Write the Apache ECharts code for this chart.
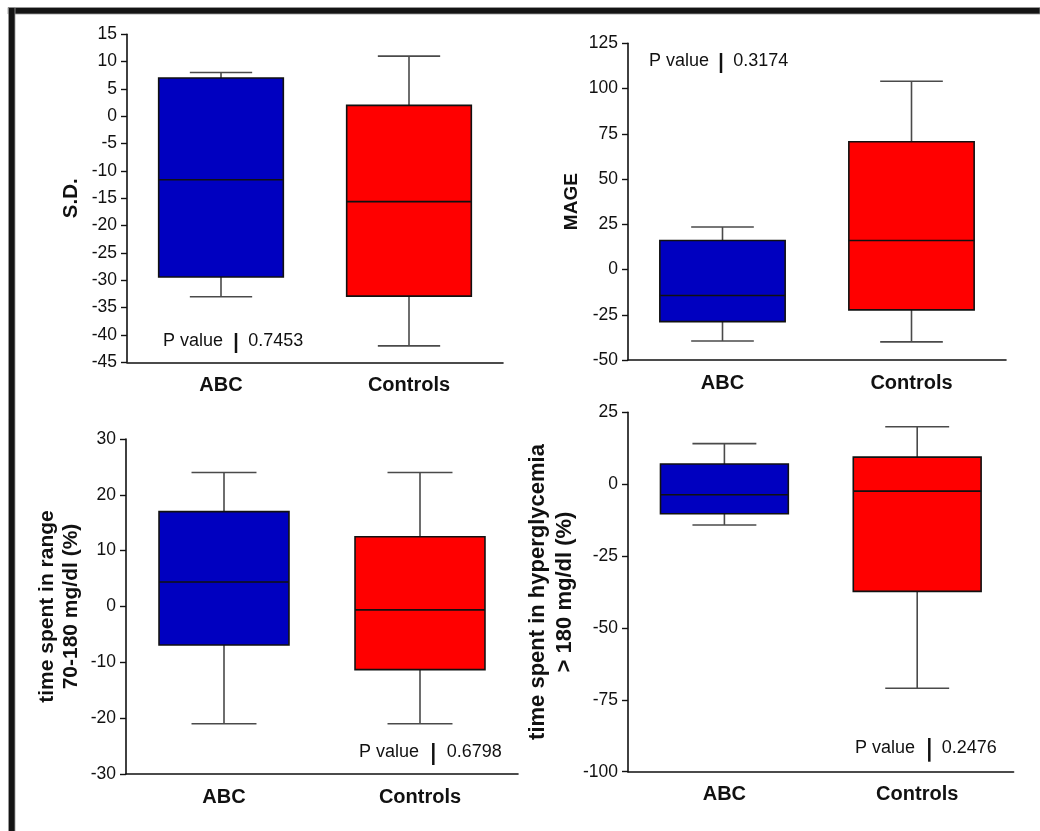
<!DOCTYPE html>
<html>
<head>
<meta charset="utf-8">
<script src="https://cdn.jsdelivr.net/npm/echarts@6/dist/echarts.min.js"></script>
<style>
  html, body { margin: 0; padding: 0; background: #fff; }
  #chart { width: 1040px; height: 831px; }
</style>
</head>
<body>
<div id="chart"></div>
<script>
// ---------- DATA ----------
const categories = ['ABC', 'Controls'];
// each box: [min, q1, median, q3, max]
const sdABC = [-33, -29.4, -11.6, 7, 8];
const sdControls = [-42, -32.9, -15.6, 2, 11];
const mageABC = [-39.5, -28.8, -14.4, 16, 23.5];
const mageControls = [-40, -22.3, 16, 70.6, 104];
const tirABC = [-21, -6.9, 4.4, 17, 24];
const tirControls = [-21, -11.3, -0.6, 12.5, 24];
const tarABC = [-14.2, -10.3, -3.7, 7, 14.1];
const tarControls = [-71, -37.3, -2.4, 9.4, 20];
const pValues = ['0.7453', '0.3174', '0.6798', '0.2476'];
const yTitles = ['S.D.', 'MAGE', 'time spent in range\n70-180 mg/dl (%)', 'time spent in hyperglycemia\n> 180 mg/dl (%)'];
const yMins = [-45, -50, -30, -100];
const yMaxs = [15, 125, 30, 25];
const yIntervals = [5, 25, 10, 25];

// ---------- LAYOUT / STYLE ----------
const panelData = [
  [sdABC, sdControls],
  [mageABC, mageControls],
  [tirABC, tirControls],
  [tarABC, tarControls]
];
const grids = [
  { left: 127, top: 34.3, width: 376, height: 328 },
  { left: 628, top: 43.3, width: 378, height: 316.7 },
  { left: 126, top: 439, width: 392, height: 335 },
  { left: 628, top: 412.3, width: 385.6, height: 359.4 }
];
const nameGaps = [44, 45, 43, 50];
const nameSizes = [20.5, 19, 21, 22];
const nameLineHeights = [23, 22, 24, 26.5];
const boxColors = ['#0000C0', '#FF0000'];
const FONT = '"Liberation Sans", Arial, Helvetica, sans-serif';

function renderItem(params, api) {
  const idx = api.value(0);
  const x = api.coord([idx, 0])[0];
  const yMin = api.coord([idx, api.value(1)])[1];
  const yQ1 = api.coord([idx, api.value(2)])[1];
  const yMed = api.coord([idx, api.value(3)])[1];
  const yQ3 = api.coord([idx, api.value(4)])[1];
  const yMax = api.coord([idx, api.value(5)])[1];
  const band = api.size([1, 0])[0];
  const bw = band * 0.663;
  const cw = bw * 0.5;
  const wStyle = { stroke: '#4a4a4a', lineWidth: 1.6 };
  const bStyle = { stroke: '#111', lineWidth: 1.6 };
  return {
    type: 'group',
    children: [
      { type: 'line', shape: { x1: x, y1: yQ3, x2: x, y2: yMax }, style: wStyle },
      { type: 'line', shape: { x1: x - cw / 2, y1: yMax, x2: x + cw / 2, y2: yMax }, style: wStyle },
      { type: 'line', shape: { x1: x, y1: yQ1, x2: x, y2: yMin }, style: wStyle },
      { type: 'line', shape: { x1: x - cw / 2, y1: yMin, x2: x + cw / 2, y2: yMin }, style: wStyle },
      { type: 'rect', shape: { x: x - bw / 2, y: yQ3, width: bw, height: yQ1 - yQ3 },
        style: { fill: boxColors[idx], stroke: '#111', lineWidth: 1.6 } },
      { type: 'line', shape: { x1: x - bw / 2, y1: yMed, x2: x + bw / 2, y2: yMed }, style: bStyle }
    ]
  };
}

const xAxes = [], yAxes = [], series = [];
for (let i = 0; i < 4; i++) {
  xAxes.push({
    type: 'category', gridIndex: i, data: categories,
    axisLine: { onZero: false, lineStyle: { color: '#111', width: 1.6 } },
    axisTick: { show: false },
    axisLabel: { color: '#111', fontFamily: FONT, fontSize: 20, fontWeight: 'bold', margin: 13 },
    splitLine: { show: false }
  });
  yAxes.push({
    type: 'value', gridIndex: i, min: yMins[i], max: yMaxs[i], interval: yIntervals[i],
    name: yTitles[i], nameLocation: 'middle', nameGap: nameGaps[i], nameRotate: 90,
    nameTextStyle: { color: '#111', fontFamily: FONT, fontSize: nameSizes[i], fontWeight: 'bold',
      lineHeight: nameLineHeights[i] },
    axisLine: { show: true, onZero: false, lineStyle: { color: '#111', width: 1.6 } },
    axisTick: { show: true, length: 6, lineStyle: { color: '#111', width: 1.4 } },
    axisLabel: { color: '#111', fontFamily: FONT, fontSize: 17.5, margin: 10 },
    splitLine: { show: false }
  });
  series.push({
    type: 'custom', xAxisIndex: i, yAxisIndex: i,
    renderItem: renderItem,
    encode: { x: 0, y: [1, 2, 3, 4, 5] },
    data: panelData[i].map((d, k) => [k].concat(d)),
    silent: true
  });
}

// P value annotations: [x of "P value", x of bar, x of value, y center, bar top, bar bottom]
const pPos = [
  [163, 236, 248.3, 340.7, 333, 353],
  [649, 721, 733.3, 61, 53, 73],
  [359, 433.3, 446.7, 752.3, 743, 765],
  [855, 929.3, 941.7, 748.3, 738, 761.7]
];
const graphics = [
  // frame (top and left thick borders)
  { type: 'rect', shape: { x: 8, y: 7.5, width: 1032, height: 6.5 }, style: { fill: '#141414', stroke: '#9a9a9a', lineWidth: 0.8 }, z: 100 },
  { type: 'rect', shape: { x: 8.5, y: 7.5, width: 6.5, height: 830 }, style: { fill: '#141414', stroke: '#9a9a9a', lineWidth: 0.8 }, z: 100 }
];
pPos.forEach((p, i) => {
  graphics.push({ type: 'text', x: p[0], y: p[3], style: { text: 'P value', fill: '#111', font: '18px ' + FONT, textVerticalAlign: 'middle' } });
  graphics.push({ type: 'rect', shape: { x: p[1] - 1.25, y: p[4], width: 2.5, height: p[5] - p[4] }, style: { fill: '#111' } });
  graphics.push({ type: 'text', x: p[2], y: p[3], style: { text: pValues[i], fill: '#111', font: '18px ' + FONT, textVerticalAlign: 'middle' } });
});

const chart = echarts.init(document.getElementById('chart'), null, { renderer: 'canvas' });
chart.setOption({
  backgroundColor: '#ffffff',
  animation: false,
  grid: grids,
  xAxis: xAxes,
  yAxis: yAxes,
  series: series,
  graphic: graphics
});
</script>
</body>
</html>
